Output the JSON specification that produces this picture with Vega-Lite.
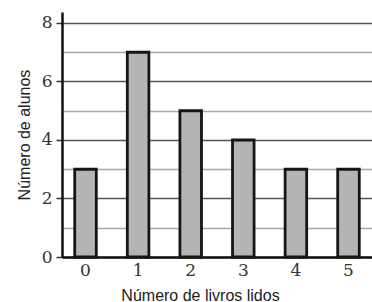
{
  "$schema": "https://vega.github.io/schema/vega-lite/v6.json",
  "width": 310,
  "height": 245,
  "autosize": "none",
  "padding": {"left": 62, "top": 12, "right": 0, "bottom": 45},
  "background": "white",
  "config": {"view": {"stroke": null}},
  "data": {
    "values": [
      {"livros": "0", "alunos": 3},
      {"livros": "1", "alunos": 7},
      {"livros": "2", "alunos": 5},
      {"livros": "3", "alunos": 4},
      {"livros": "4", "alunos": 3},
      {"livros": "5", "alunos": 3}
    ]
  },
  "mark": {"type": "bar", "fill": "#b3b4b6", "stroke": "#151515", "strokeWidth": 2.8},
  "encoding": {
    "x": {
      "field": "livros",
      "type": "ordinal",
      "sort": null,
      "scale": {"paddingInner": 0.59, "paddingOuter": 0.242},
      "axis": {
        "title": "Número de livros lidos",
        "labelAngle": 0,
        "labelFont": "DejaVu Serif",
        "labelFontSize": 17,
        "labelColor": "#333333",
        "labelPadding": 5,
        "ticks": false,
        "domainColor": "#111111",
        "domainWidth": 2.5,
        "titleFont": "Liberation Sans",
        "titleFontSize": 16,
        "titleFontWeight": "normal",
        "titleColor": "#222222",
        "titlePadding": 9,
        "titleX": 138
      }
    },
    "y": {
      "field": "alunos",
      "type": "quantitative",
      "scale": {"domain": [0, 8.376], "nice": false},
      "axis": {
        "title": "Número de alunos",
        "values": [0, 1, 2, 3, 4, 5, 6, 7, 8],
        "labelExpr": "datum.value % 2 === 0 ? datum.label : ''",
        "labelFont": "DejaVu Serif",
        "labelFontSize": 17,
        "labelColor": "#333333",
        "labelPadding": 4,
        "tickSize": 6,
        "tickWidth": 1.5,
        "tickColor": {"condition": {"test": "datum.value % 2 === 0", "value": "#333333"}, "value": "transparent"},
        "grid": true,
        "gridColor": {"condition": {"test": "datum.value % 2 === 0", "value": "#555555"}, "value": "#a8a8a8"},
        "gridWidth": 1.5,
        "domainColor": "#111111",
        "domainWidth": 2.5,
        "titleFont": "Liberation Sans",
        "titleFontSize": 16,
        "titleFontWeight": "normal",
        "titleColor": "#222222",
        "titlePadding": 9
      }
    }
  }
}
